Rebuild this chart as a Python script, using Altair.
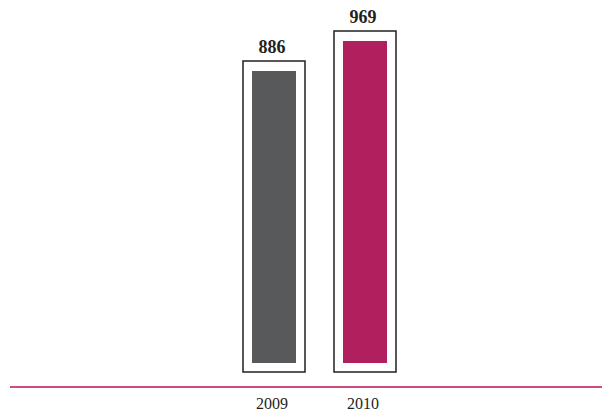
import altair as alt
import pandas as pd

years = ["2009", "2010"]
values = [886, 969]
colors = ["#58595b", "#b01f5e"]

df = pd.DataFrame({"year": years, "value": values})

xscale = alt.Scale(domain=years, paddingInner=0, paddingOuter=0, range=[220.5, 402.5])
yscale = alt.Scale(domain=[0, 1038.2], nice=False)

base = alt.Chart(df).encode(
    x=alt.X("year:N", scale=xscale,
            axis=alt.Axis(title=None, domain=False, ticks=False, labelAngle=0,
                          labelFont="Liberation Serif", labelFontSize=16,
                          labelColor="#231f20", labelPadding=17, labelOffset=-2,
                          labelBaseline="alphabetic"))
)

box = base.mark_bar(size=62, fill="white", stroke="#231f20", strokeWidth=1.5,
                    yOffset=-10, y2Offset=-19).encode(
    y=alt.Y("value:Q", scale=yscale, axis=None),
    y2=alt.datum(0)
)

bar = base.mark_bar(size=44, y2Offset=-28).encode(
    y=alt.Y("value:Q", scale=yscale, axis=None),
    y2=alt.datum(0),
    color=alt.Color("year:N", scale=alt.Scale(domain=years, range=colors), legend=None)
)

text = base.mark_text(font="Liberation Serif", fontSize=18, fontWeight="bold",
                      baseline="alphabetic", dy=-18, dx=-2, color="#231f20").encode(
    y=alt.Y("value:Q", scale=yscale, axis=None),
    text="value:Q"
)

rule = alt.Chart(pd.DataFrame({"a": [0]})).mark_rule(color="#c94d82", strokeWidth=2).encode(
    x=alt.value(2), x2=alt.value(594), y=alt.value(371)
)

chart = alt.layer(rule, box, bar, text).properties(
    width=594, height=375,
    padding={"left": 0, "top": 8, "right": 0, "bottom": 19},
    autosize="none"
).configure_view(strokeWidth=0)

chart.save("out.html", embed_options={"renderer": "svg", "actions": False})
